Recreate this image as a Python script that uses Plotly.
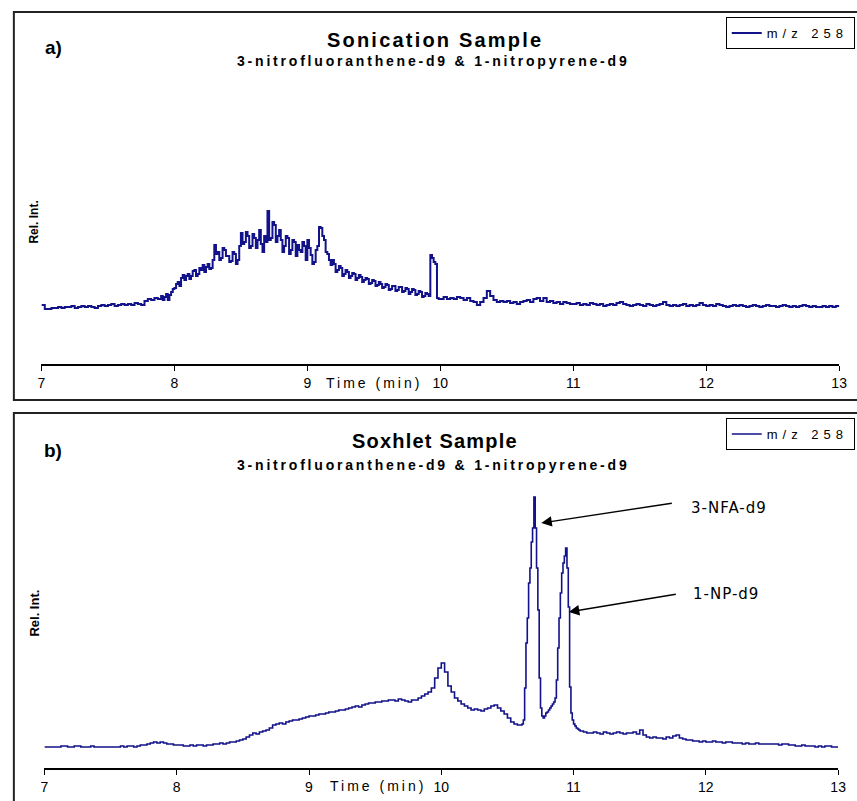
import numpy as np
import plotly.graph_objects as go

# ---------------- data ----------------
# Panel a) Sonication sample, m/z 258 (denser sampling over the noisy hump)
top_time = np.concatenate([
    np.round(np.arange(7.0, 7.8751, 0.025), 4),
    np.round(np.arange(7.9, 9.98751, 0.0125), 4),
    np.round(np.arange(10.0, 13.0001, 0.025), 4),
])
top_intensity = [
    # 7.000 - 7.875
    59, 55, 55, 56, 56, 57, 56, 57, 57, 58, 56, 57, 58, 57, 58, 57, 56, 58, 59, 58,
    59, 60, 58, 59, 60, 59, 60, 59, 61, 60, 59, 63, 65, 64, 66, 65,
    # 7.9000 - 9.9875 (0.0125 step)
    68, 64, 67, 70, 64, 69, 72, 75,
    76, 80, 82, 78, 86, 89, 84, 88,
    90, 85, 88, 93, 94, 88, 90, 96,
    94, 99, 92, 97, 100, 95, 96, 104,
    119, 110, 112, 104, 106, 116, 114, 108,
    108, 102, 103, 112, 110, 100, 104, 118,
    131, 120, 122, 132, 128, 116, 118, 130,
    126, 116, 124, 134, 120, 112, 128, 122,
    153, 124, 126, 142, 139, 122, 128, 134,
    124, 112, 118, 128, 126, 110, 114, 124,
    122, 108, 119, 114, 112, 122, 118, 104,
    124, 116, 109, 100, 102, 114, 118, 137,
    136, 128, 124, 112, 110, 104, 99, 104,
    100, 92, 94, 98, 96, 88, 90, 94,
    92, 86, 88, 91, 90, 84, 86, 89,
    87, 82, 84, 86, 85, 80, 81, 84,
    83, 78, 79, 82, 80, 76, 77, 80,
    79, 74, 75, 78, 78, 73, 74, 77,
    77, 72, 73, 76, 75, 70, 72, 75,
    74, 69, 70, 73, 72, 67, 68, 71,
    70, 68, 109, 106, 102, 100, 66, 65,
    # 10.000 - 13.000
    65, 67, 65, 66, 65, 67, 66, 64, 66, 63, 62, 59, 62, 66, 73, 68, 64, 62, 63, 62,
    63, 61, 62, 60, 62, 63, 64, 62, 65, 66, 63, 66, 62, 63, 61, 62, 60, 62, 61, 60,
    60, 61, 59, 60, 59, 61, 60, 59, 60, 58, 59, 60, 59, 61, 62, 60, 59, 58, 59, 60,
    59, 58, 60, 59, 58, 59, 60, 62, 59, 58, 59, 58, 59, 60, 58, 59, 58, 59, 61, 59,
    58, 59, 58, 60, 59, 58, 57, 58, 59, 58, 59, 58, 57, 58, 59, 58, 57, 58, 59, 58,
    58, 57, 58, 59, 58, 57, 58, 57, 58, 59, 58, 57, 58, 57, 57, 58, 57, 58, 57, 58, 57,
]

# Panel b) Soxhlet sample, m/z 258 (finer sampling across the two analyte peaks)
bot_time = np.concatenate([
    np.round(np.arange(7.0, 10.5751, 0.025), 3),
    np.round(np.arange(10.60, 11.0501, 0.01), 3),
    np.round(np.arange(11.075, 13.0001, 0.025), 3),
])
bot_intensity = [
    21, 21, 21, 21, 21, 22, 22, 21, 21, 22, 22, 21, 21, 21, 22, 21, 21, 21, 21, 21, 21,
    21, 21, 22, 21, 22, 22, 21, 22, 23, 23, 24, 25, 26, 25, 26, 25, 24, 24, 23,
    23, 23, 22, 22, 23, 22, 23, 23, 22, 23, 23, 24, 24, 25, 24, 25, 26, 26, 27, 28,
    29, 31, 33, 35, 34, 36, 37, 38, 40, 43, 44, 45, 44, 46, 47, 48, 48, 49, 50, 51,
    52, 52, 53, 54, 54, 55, 56, 56, 57, 58, 58, 59, 60, 61, 62, 61, 63, 64, 65, 65,
    66, 66, 67, 67, 68, 68, 67, 69, 68, 67, 66, 68, 68, 70, 72, 74, 76, 80, 90, 100,
    105, 96, 82, 76, 70, 67, 64, 62, 60, 58, 59, 58, 57, 59, 60, 62, 63, 60, 57, 54,
    50, 46, 44, 43,
    43, 44, 48, 80, 125, 150, 185, 200, 226, 240, 271, 240, 200, 158, 90, 60,
    52, 50, 52, 55, 56, 58, 60, 62, 64, 66, 70, 88, 120, 150, 175, 195, 205, 212,
    220, 200, 161, 81, 55, 48, 44, 42, 40, 39, 38, 37,
    36, 35, 35, 36, 35, 34, 36, 35, 34, 35, 36, 35, 34, 35, 35, 36, 34,
    38, 33, 31, 30, 31, 30, 30, 29, 31, 30, 32, 33, 30, 29, 28, 28, 27, 27, 26, 27,
    26, 26, 27, 26, 26, 25, 26, 26, 25, 25, 25, 24, 25, 24, 24, 25, 24, 24, 24, 24,
    24, 24, 23, 24, 24, 23, 23, 22, 22, 23, 22, 22, 22, 21, 22, 21, 22, 22, 21, 21, 21,
]
assert len(top_time) == len(top_intensity), (len(top_time), len(top_intensity))
assert len(bot_time) == len(bot_intensity), (len(bot_time), len(bot_intensity))

x_ticks = [7, 8, 9, 10, 11, 12, 13]
series_name = "m/z 258"
panel_titles = ["Sonication Sample", "Soxhlet Sample"]
subtitle = "3-nitrofluoranthene-d9 & 1-nitropyrene-d9"
peak_labels = ["3-NFA-d9", "1-NP-d9"]

# ---------------- figure ----------------
W, H = 857, 801
NAVY = "#12128a"
SANS = "Liberation Sans, Arial, sans-serif"

def px(x):
    return x / W

def py(y):
    return 1 - y / H

def spaced(text, sp):
    return f'<span style="letter-spacing:{sp}px">{text}</span>'

fig = go.Figure()
fig.add_trace(go.Scatter(x=top_time, y=top_intensity, mode="lines", name=spaced(series_name, 5),
                         line=dict(color=NAVY, width=2, shape="hv"),
                         xaxis="x", yaxis="y", legend="legend"))
fig.add_trace(go.Scatter(x=bot_time, y=bot_intensity, mode="lines", name=spaced(series_name, 5),
                         line=dict(color=NAVY, width=1.6, shape="hv"),
                         xaxis="x2", yaxis="y2", legend="legend2"))

xax = dict(range=[7, 13], tickvals=x_ticks, showline=True, linecolor="black", linewidth=1.5,
           ticks="outside", ticklen=5, tickwidth=1.2, tickcolor="black", showgrid=False,
           zeroline=False, tickfont=dict(family=SANS, size=14, color="black"),
           fixedrange=True)
leg = dict(xanchor="left", yanchor="top", bgcolor="white", bordercolor="black", borderwidth=1,
           font=dict(family=SANS, size=13, color="black"), itemwidth=30)
fig.update_layout(
    width=W, height=H, margin=dict(l=0, r=0, t=0, b=0),
    paper_bgcolor="white", plot_bgcolor="white",
    xaxis=dict(xax, domain=[px(38), px(847)], anchor="y"),
    yaxis=dict(domain=[py(364), py(100)], range=[0, 264], visible=False, anchor="x"),
    xaxis2=dict(xax, domain=[px(41), px(846)], anchor="y2"),
    yaxis2=dict(domain=[py(768), py(480)], range=[0, 288], visible=False, anchor="x2"),
    legend=dict(leg, x=px(732), y=py(17)),
    legend2=dict(leg, x=px(732), y=py(418)),
    showlegend=True,
)

# panel frames
fig.add_shape(type="rect", xref="paper", yref="paper", x0=px(10), x1=1.02, y0=py(400), y1=py(12),
              line=dict(color="#222", width=2))
fig.add_shape(type="rect", xref="paper", yref="paper", x0=px(10), x1=1.02, y0=-0.02, y1=py(413),
              line=dict(color="#222", width=2))

ann = []
def txt(text, x, y, size, bold=False, xanchor="center", yanchor="middle", xref="paper", yref="paper",
        family=SANS, angle=0, spacing=None):
    t = f"<b>{text}</b>" if bold else text
    if spacing:
        t = spaced(t, spacing)
    ann.append(dict(text=t, x=x, y=y, xref=xref, yref=yref, xanchor=xanchor, yanchor=yanchor,
                    showarrow=False, textangle=angle, font=dict(family=family, size=size, color="black")))

# panel a
txt(panel_titles[0], px(437), py(40), 20, bold=True, spacing=2.2)
txt(subtitle, px(435), py(61), 14, bold=True, spacing=2.8)
txt("a)", px(50), py(47), 19, bold=True)
txt("Rel. Int.", px(30), py(222), 12, bold=True, angle=-90)
txt("Time (min)", 9.50, py(383), 14, xref="x", spacing=3)
# panel b
txt(panel_titles[1], px(437), py(441), 20, bold=True, spacing=1.2)
txt(subtitle, px(435), py(465), 14, bold=True, spacing=2.8)
txt("b)", px(50), py(450), 19, bold=True)
txt("Rel. Int.", px(30), py(613), 13, bold=True, angle=-90)
txt("Time (min)", 9.52, py(786), 14, xref="x2", spacing=3)

# peak arrows
for label, head, tail, lab in [
    (peak_labels[0], (10.756, 245), (11.754, 265), (11.873, 260)),
    (peak_labels[1], (10.964, 156), (11.784, 174), (11.888, 174)),
]:
    ann.append(dict(text="", x=head[0], y=head[1], xref="x2", yref="y2",
                    ax=tail[0], ay=tail[1], axref="x2", ayref="y2", showarrow=True,
                    arrowhead=2, arrowsize=1.5, arrowwidth=1.4, arrowcolor="black"))
    txt(label, lab[0], lab[1], 15, xanchor="left", xref="x2", yref="y2",
        family="DejaVu Sans, sans-serif", spacing=1)

fig.update_layout(annotations=ann)
fig.write_html("out.html")
